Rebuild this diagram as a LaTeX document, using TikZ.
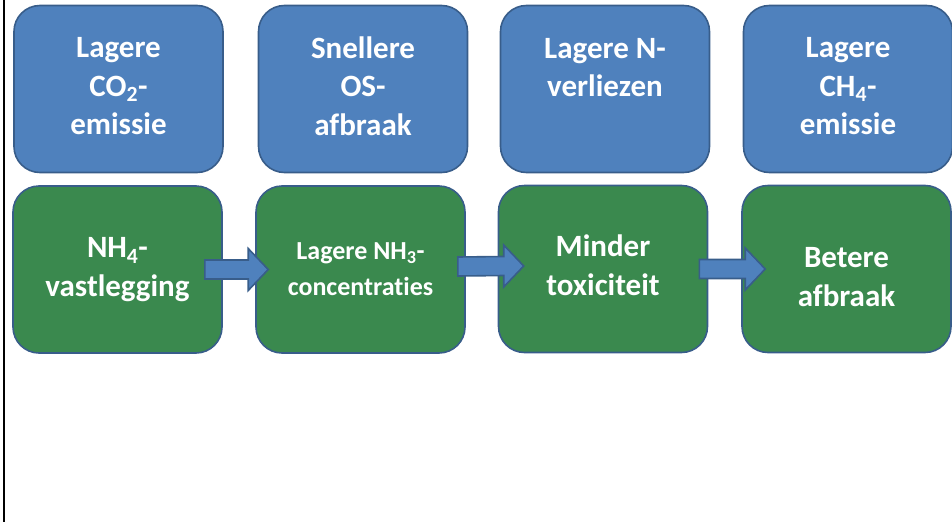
\documentclass[tikz,border=0pt]{standalone}
\usepackage{fontspec}
\setmainfont{Carlito}[Ligatures=NoCommon]
\usetikzlibrary{calc}

\definecolor{boxblue}{RGB}{79,129,189}
\definecolor{boxgreen}{RGB}{58,137,78}
\definecolor{boxline}{RGB}{56,93,138}

\tikzset{
  topbox/.style={rectangle, rounded corners=26pt, draw=boxline, fill=boxblue,
    line width=1.6pt, minimum width=209pt, minimum height=167pt,
    text=white, align=center, font=\bfseries\fontsize{31}{38.5}\selectfont},
  botbox/.style={topbox, fill=boxgreen},
  blockarrow/.style={draw=boxline, fill=boxblue, line width=1.6pt}
}

% invisible struts to nudge the text block
\newcommand{\padbelow}[1]{\rule[-#1]{0pt}{0pt}}
\newcommand{\padabove}[1]{\rule{0pt}{#1}}

% fat arrow from start coordinate to tip coordinate
\newcommand{\blockarrow}[2]{%
  \draw [blockarrow] ($(#1)+(0,-9.5)$) -- ($(#2)+(-20,-9.5)$) -- ($(#2)+(-20,-21)$)
    -- (#2) -- ($(#2)+(-20,21)$) -- ($(#2)+(-20,9.5)$) -- ($(#1)+(0,9.5)$) -- cycle;}

\begin{document}
\begin{tikzpicture}[x=1pt, y=-1pt]
\useasboundingbox (0,0) rectangle (952,522);
\draw [line width=2pt] (4,0) -- (4,522);

% effects
\node (co2) at (118.5,89) [topbox] {Lagere\\CO\textsubscript{2}-\\emissie\padbelow{6pt}};
\node (os) at (363,89) [topbox] {Snellere\\OS-\\afbraak\padbelow{6pt}};
\node (nverlies) at (605,89) [topbox] {Lagere N-\\verliezen\\\padbelow{5pt}};
\node (ch4) at (848,89) [topbox] {Lagere\\CH\textsubscript{4}-\\emissie\padbelow{6pt}};

% chain
\node (nh4) at (117.5,269.5) [botbox] {NH\textsubscript{4}-\\vastlegging};
\node (nh3) at (360.5,269.5) [botbox, font=\bfseries\fontsize{26}{36}\selectfont]
  {Lagere NH\textsubscript{3}-\\concentraties};
\node (tox) at (603,269) [botbox] {Minder\\toxiciteit\padbelow{8pt}};
\node (afbraak) at (846.5,269) [botbox] {\padabove{36pt}Betere\\afbraak};

\coordinate (a1s) at ([xshift=-18pt]nh4.east);
\coordinate (a1e) at ([xshift=13pt]nh3.west);
\coordinate (a2s) at ([shift={(-8,-3)}]nh3.east);
\coordinate (a2e) at ([shift={(26,-3)}]tox.west);
\coordinate (a3s) at ([xshift=-9pt]tox.east);
\coordinate (a3e) at ([xshift=24pt]afbraak.west);

\blockarrow{a1s}{a1e}
\blockarrow{a2s}{a2e}
\blockarrow{a3s}{a3e}

\end{tikzpicture}
\end{document}
